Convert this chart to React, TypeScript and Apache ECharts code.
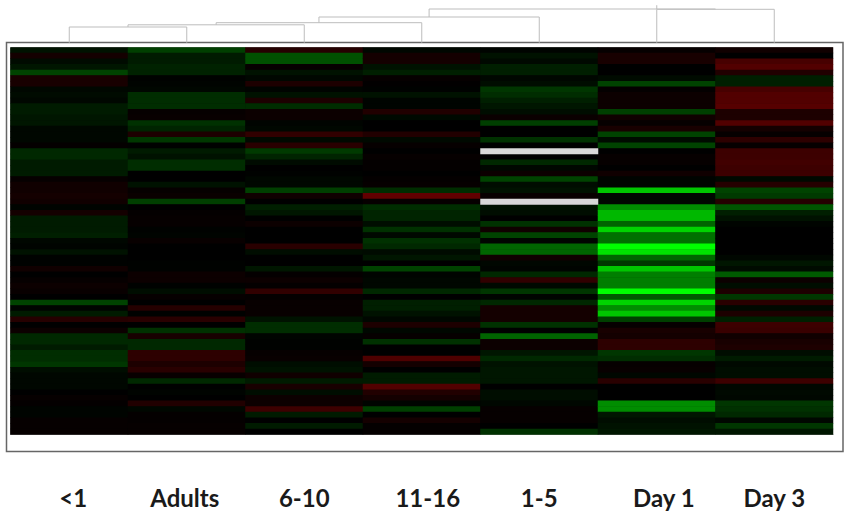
import React, { useEffect, useRef } from "react";
import * as echarts from "echarts";

const categories = ["<1", "Adults", "6-10", "11-16", "1-5", "Day 1", "Day 3"];
const labelNudgeLeft = [8, 0, 0, 12, 0, 14, 0];
const labelNudgeRight = [0, 4, 0, 0, 0, 0, 0];
const colorStops = ["#d00000", "#660000", "#000000", "#007000", "#00ff00"];

// Signed expression per gene row: green is positive, red is negative, null is missing.
const valuesLt1 = [8,-10,5,10,30,-12,-12,3,5,3,12,12,10,10,3,3,3,-2,18,18,12,12,12,-3,-8,-8,-10,-8,2,-10,12,12,12,14,3,2,8,1,1,-8,0,-3,-6,-4,0,30,2,12,-18,0,-6,18,18,12,20,20,24,6,3,3,3,0,-3,-2,2,2,-3,-3,-3];
const valuesAdults = [28,12,12,15,15,1,2,3,20,20,20,-3,-4,22,16,-14,25,1,12,8,20,20,0,0,8,-3,-5,28,0,-2,-3,-3,1,2,-4,0,0,0,1,1,-6,-6,1,6,-3,0,-18,1,-20,0,22,-12,18,18,-22,-22,-14,-20,-4,18,0,2,0,-16,3,-2,-2,-3,-3];
const values6to10 = [-18,36,36,-3,8,3,-14,2,8,-14,20,-6,-6,2,3,-24,4,-20,26,16,5,0,1,3,3,28,-8,0,14,10,0,-6,0,0,0,-20,6,0,0,10,-2,-6,-2,-24,-2,-4,-4,-4,8,20,20,2,1,1,-3,-4,6,8,-8,12,-12,6,-6,-6,-30,12,0,12,0];
const values11to16 = [3,-10,-10,8,14,-3,-1,1,8,2,2,-16,4,0,0,-16,4,-3,0,-3,-2,-2,0,-2,-3,20,-48,-3,20,16,16,6,22,4,22,18,5,10,0,30,2,3,3,18,0,14,14,8,3,-14,3,-3,22,0,0,-38,-10,0,12,12,-40,-16,-10,2,28,0,-10,-2,-2];
const values1to5 = [2,8,4,14,14,3,6,24,20,14,10,6,-5,28,0,0,22,0,null,0,18,3,-6,30,6,8,-4,null,8,6,0,22,-8,30,2,45,45,-8,3,2,18,-24,4,24,2,18,-10,-10,-10,22,0,44,-6,-6,10,18,8,10,10,10,0,6,6,3,-3,-3,-3,0,22];
const valuesDay1 = [-3,-12,-12,0,0,5,30,-2,-6,-6,-6,28,-8,-3,-12,30,5,30,0,-3,-3,0,-8,2,2,80,3,3,60,75,75,45,85,50,50,100,90,45,25,80,55,55,55,100,40,85,60,80,28,-3,-12,-10,-22,-22,24,20,-3,-4,3,-20,0,0,0,60,60,10,6,8,10];
const valuesDay3 = [-8,0,-35,-40,-16,14,14,-35,-40,-40,-42,-14,-14,-40,-10,-3,-22,-3,-30,-30,-32,-30,-30,4,-18,30,26,-18,38,14,8,2,0,0,0,0,0,3,10,5,40,-6,6,-14,25,-20,4,-14,14,-30,-28,-8,-12,-14,6,12,4,6,6,-30,3,4,3,24,22,18,3,24,10];
const columns = [valuesLt1, valuesAdults, values6to10, values11to16, values1to5, valuesDay1, valuesDay3];

// Dendrogram: each merge joins two children at a height; a child is a column index or a merge name.
const mergeNames = ["m1", "m2", "m3", "m4", "m5", "m6"];
const mergeLeft = [0, "m1", "m2", "m3", 5, "m4"];
const mergeRight = [1, 2, 3, 4, 6, "m5"];
const mergeHeights = [15.7, 17.9, 20, 25.7, 33.4, 33.7];
const rootStub = [33.7, 37.5];

const GRID_LEFT = 10.5;
const GRID_WIDTH = 822.5;

export default function App() {
  const ref = useRef<HTMLDivElement>(null);
  useEffect(() => {
    const chart = echarts.init(ref.current!, null, { renderer: "svg" });
    const rows = columns[0].map((_, i) => String(i));
    const cells: number[][] = [];
    const missing: number[][] = [];
    columns.forEach((col, x) =>
      col.forEach((v, y) => {
        if (v === null) missing.push([x, y, 0]);
        else cells.push([x, y, v as number]);
      })
    );

    const nodes: Record<string, { x: number; h: number }> = {};
    const resolve = (c: any) =>
      typeof c === "number" ? { x: c + 0.5, h: 0 } : nodes[c];
    const links: any[] = [];
    mergeNames.forEach((name, i) => {
      const l = resolve(mergeLeft[i]);
      const r = resolve(mergeRight[i]);
      const h = mergeHeights[i];
      links.push([l.x, l.h], [l.x, h], [r.x, h], [r.x, r.h], ["-", "-"]);
      nodes[name] = { x: (l.x + r.x) / 2, h };
    });
    links.push([5.5, rootStub[0]], [5.5, rootStub[1]]);

    chart.setOption({
      animation: false,
      backgroundColor: "#ffffff",
      graphic: [
        {
          type: "rect",
          z: -10,
          silent: true,
          shape: { x: 6.5, y: 42.5, width: 836.5, height: 409 },
          style: { fill: "#ffffff", stroke: "#666666", lineWidth: 1.5 },
        },
      ],
      grid: [
        {
          left: GRID_LEFT,
          width: GRID_WIDTH,
          top: 47.5,
          height: 387,
          show: true,
          backgroundColor: "#000000",
          borderWidth: 0,
        },
        { left: GRID_LEFT, width: GRID_WIDTH, top: 3, height: 39.7 },
      ],
      xAxis: [
        {
          type: "category",
          gridIndex: 0,
          data: categories.map((c, i) => ({
            value: c,
            textStyle: { padding: [0, labelNudgeRight[i], 0, labelNudgeLeft[i]] },
          })),
          axisTick: { show: false },
          axisLine: { show: true, lineStyle: { color: "#999999", width: 1 } },
          axisLabel: {
            margin: 49,
            interval: 0,
            fontFamily: "Lato",
            fontWeight: "bold",
            fontSize: 24,
            color: "#1a1a1a",
            lineHeight: 28,
          },
        },
        { type: "value", gridIndex: 1, min: 0, max: 7, show: false },
      ],
      yAxis: [
        {
          type: "category",
          gridIndex: 0,
          data: rows,
          inverse: true,
          show: false,
        },
        { type: "value", gridIndex: 1, min: 0, max: 39.7, show: false },
      ],
      visualMap: [
        {
          show: false,
          seriesIndex: 0,
          dimension: 2,
          min: -100,
          max: 100,
          inRange: { color: colorStops },
        },
        {
          show: false,
          seriesIndex: 1,
          dimension: 2,
          min: 0,
          max: 1,
          inRange: { color: ["#d9d9d9", "#d9d9d9"] },
        },
      ],
      series: [
        {
          type: "heatmap",
          xAxisIndex: 0,
          yAxisIndex: 0,
          data: cells,
          progressive: 0,
          itemStyle: { borderWidth: 0 },
          emphasis: { disabled: true },
        },
        {
          type: "heatmap",
          xAxisIndex: 0,
          yAxisIndex: 0,
          data: missing,
          itemStyle: { borderWidth: 0 },
          emphasis: { disabled: true },
        },
        {
          type: "line",
          xAxisIndex: 1,
          yAxisIndex: 1,
          data: links,
          symbol: "none",
          connectNulls: false,
          silent: true,
          lineStyle: { color: "#bdbdbd", width: 1 },
        },
      ],
    });
    return () => chart.dispose();
  }, []);
  return (
    <div
      ref={ref}
      style={{ position: "absolute", left: 0, top: 0, width: 845, height: 512, background: "#fff" }}
    />
  );
}
